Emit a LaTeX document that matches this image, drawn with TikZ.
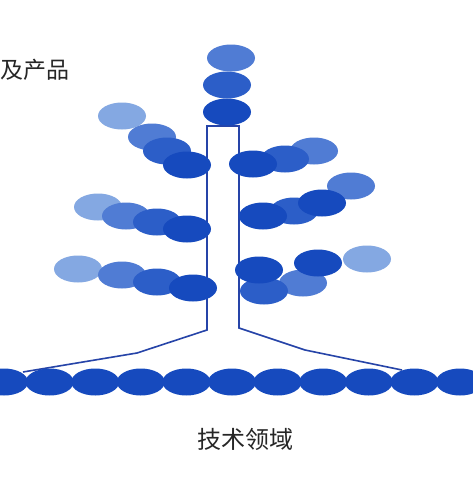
\documentclass[tikz,border=0pt]{standalone}
\usepackage{fontspec}
\newfontfamily\cjk{Noto Sans CJK SC}
\tikzset{
  leaf/.style={line width=0pt},
  leaf-dark/.style={leaf, fill=leafdark},
  leaf-mid/.style={leaf, fill=leafmid},
  leaf-soft/.style={leaf, fill=leafsoft},
  leaf-light/.style={leaf, fill=leaflight},
  trunk/.style={draw=trunkblue, line width=1.6pt, line join=miter},
  label/.style={font=\cjk\fontsize{24}{28}\selectfont, text=black!85, inner sep=0pt}
}
\definecolor{leafdark}{RGB}{22,74,190}
\definecolor{leafmid}{RGB}{44,94,200}
\definecolor{leafsoft}{RGB}{80,124,212}
\definecolor{leaflight}{RGB}{132,168,226}
\definecolor{trunkblue}{RGB}{38,68,168}
\newcommand{\leaf}[3]{
  \fill[leaf-#3] (#1,#2) ellipse [x radius=24, y radius=13.5];
}

\begin{document}
\begin{tikzpicture}[x=1pt, y=-1pt]
  \useasboundingbox[fill=white] (0,0) rectangle (473,477);
  % Trunk and roots
  \draw[trunk] (23,372) -- (137,353) -- (207,330) -- (207,126)
    -- (239,126) -- (239,328) -- (305,350) -- (402,370);
  % Top of the tree
  \leaf{231}{58}{soft}
  \leaf{227}{85}{mid}
  \leaf{227}{112}{dark}
  % Left branches
  \leaf{122}{116}{light}
  \leaf{152}{137}{soft}
  \leaf{167}{151}{mid}
  \leaf{187}{165}{dark}
  \leaf{98}{207}{light}
  \leaf{126}{216}{soft}
  \leaf{157}{222}{mid}
  \leaf{187}{229}{dark}
  \leaf{78}{269}{light}
  \leaf{122}{275}{soft}
  \leaf{157}{282}{mid}
  \leaf{193}{288}{dark}
  % Right branches
  \leaf{314}{151}{soft}
  \leaf{285}{159}{mid}
  \leaf{253}{164}{dark}
  \leaf{351}{186}{soft}
  \leaf{294}{211}{mid}
  \leaf{322}{203}{dark}
  \leaf{263}{216}{dark}
  \leaf{367}{259}{light}
  \leaf{303}{283}{soft}
  \leaf{264}{291}{mid}
  \leaf{318}{263}{dark}
  \leaf{259}{270}{dark}
  % Ground row
  \foreach \i in {0,...,10}
    \fill[leaf-dark] ({4+45.6*\i},382) ellipse [x radius=24, y radius=13.5];
  \node[label, anchor=east, font=\cjk\fontsize{23}{27}\selectfont] (products) at (70,70) {及产品};
  \node[label] (field) at (245,439) {技术领域};
\end{tikzpicture}
\end{document}
